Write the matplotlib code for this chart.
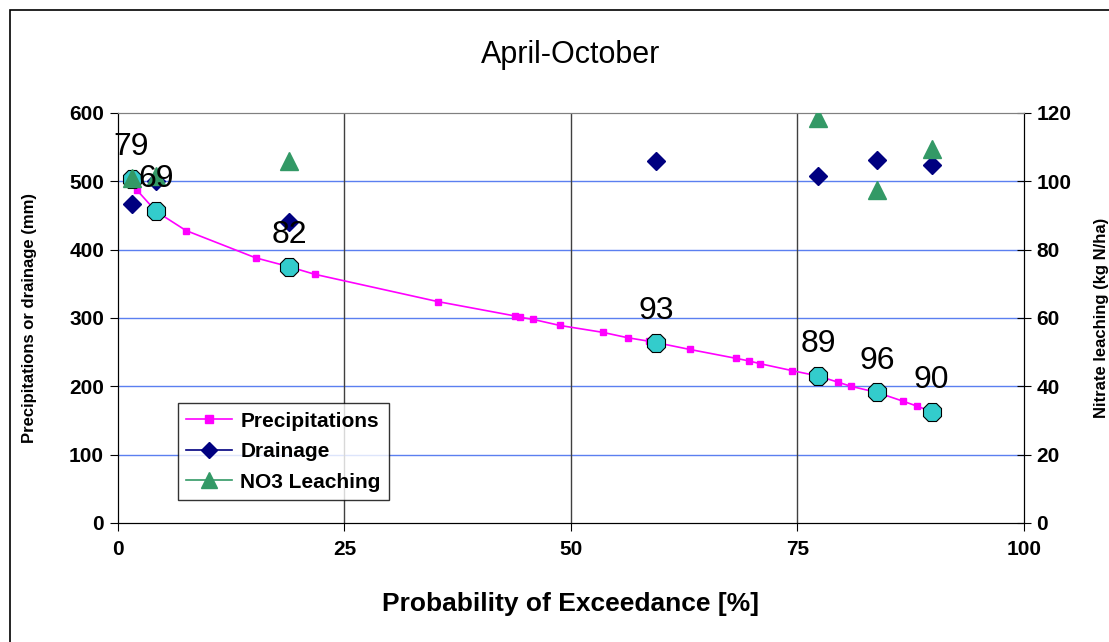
"""April-October: precipitation / drainage exceedance curve with nitrate leaching on a 2nd axis."""
import matplotlib
matplotlib.use("Agg")
import matplotlib.pyplot as plt
from matplotlib.lines import Line2D
from matplotlib.patches import Rectangle

plt.rcParams["font.family"] = ["Liberation Sans", "DejaVu Sans"]

# precipitation exceedance curve (mm)
prec_x = [1.5, 2.1, 4.2, 7.5, 15.2, 18.9, 21.7, 35.3, 43.8, 44.4, 45.8, 48.8, 53.5, 56.3,
          58.6, 59.4, 63.1, 68.2, 69.7, 70.9, 74.4, 77.3, 79.5, 80.9, 83.8, 86.7, 88.2, 89.8]
prec_y = [504, 487, 456, 428, 388, 375, 364, 324, 303, 301, 298, 289, 279, 271,
          266, 264, 254, 241, 237, 233, 223, 215, 206, 200, 191, 178, 171, 163]

# selected years (highlighted on the curve)
year_labels = ["79", "69", "82", "93", "89", "96", "90"]
year_x = [1.5, 4.2, 18.9, 59.4, 77.3, 83.8, 89.8]
year_prec = [504, 456, 375, 264, 215, 191, 163]
drain_y = [467, 500, 440, 530, 508, 531, 524]

# NO3 leaching (kg N/ha), right axis
no3_x = [1.5, 4.2, 18.9, 77.3, 83.8, 89.8]
no3_y = [101, 101.5, 106, 118.5, 97.5, 109.5]

fig = plt.figure(figsize=(11.09, 6.42), dpi=100)
ax = fig.add_axes([0.1064, 0.1854, 0.8169, 0.6386])
ax2 = ax.twinx()

grid_blue = "#5b7ff0"
for v in [100, 200, 300, 400, 500]:
    ax.axhline(v, color=grid_blue, lw=1, zorder=0)
for v in [25, 50, 75]:
    ax.axvline(v, color="#404040", lw=1, zorder=0)

ax.plot(prec_x, prec_y, color="#ff00ff", lw=1.2, marker="s", ms=5, mec="#ff00ff", zorder=2)
ax.plot(year_x, year_prec, ls="none", marker="8", ms=14, mfc="#33cccc", mec="black", mew=0.8, zorder=3)
ax.plot(year_x, drain_y, ls="none", marker="D", ms=9, color="#000080", zorder=4)
ax2.plot(no3_x, no3_y, ls="none", marker="^", ms=13, color="#339966", zorder=4)

for lab, x, y in zip(year_labels, year_x, year_prec):
    ax2.annotate(lab, xy=(x, y), xycoords=ax.transData, xytext=(0, 23), textcoords="offset points",
                 ha="center", va="center", fontsize=23, zorder=6)

ax.set_xlim(0, 100)
ax.set_ylim(0, 600)
ax2.set_ylim(0, 120)
ax.set_xticks([0, 25, 50, 75, 100])
ax.set_yticks(range(0, 601, 100))
ax2.set_yticks(range(0, 121, 20))

for a in (ax, ax2):
    for lbl in a.get_xticklabels() + a.get_yticklabels():
        lbl.set_fontweight("bold")
        lbl.set_fontsize(15)
ax.tick_params(axis="y", direction="out", length=6, pad=4)
ax.tick_params(axis="x", direction="out", length=6, pad=6)
ax2.tick_params(axis="y", direction="inout", length=10, pad=4)
ax.spines["top"].set_color("#808080")
ax2.spines["top"].set_color("#808080")

ax.set_title("April-October", fontsize=22, pad=36)
ax.set_xlabel("Probability of Exceedance [%]", fontsize=19, fontweight="bold", labelpad=24)
ax.set_ylabel("Precipitations or drainage (mm)", fontsize=12, fontweight="bold", labelpad=23)
ax2.set_ylabel("Nitrate leaching (kg N/ha)", fontsize=12, fontweight="bold", labelpad=16)

handles = [
    Line2D([], [], color="#ff00ff", marker="s", ms=6, lw=1.2, label="Precipitations"),
    Line2D([], [], color="#000080", marker="D", ms=8, lw=1.2, label="Drainage"),
    Line2D([], [], color="#339966", marker="^", ms=11, lw=1.2, label="NO3 Leaching"),
]
leg = ax2.legend(handles=handles, loc="lower left", bbox_to_anchor=(0.066, 0.056),
                 prop={"weight": "bold", "size": 15}, frameon=True, fancybox=False,
                 edgecolor="black", handlelength=2.2, borderpad=0.4, labelspacing=0.55,
                 handletextpad=0.4, borderaxespad=0)
leg.get_frame().set_linewidth(1)
leg.set_zorder(7)

fig.patches.append(Rectangle((10 / 1109, -0.1), 1.2, 1 - 10 / 642 + 0.1, transform=fig.transFigure,
                             fill=False, ec="black", lw=1.2))

fig.savefig("out.png", dpi=100)
